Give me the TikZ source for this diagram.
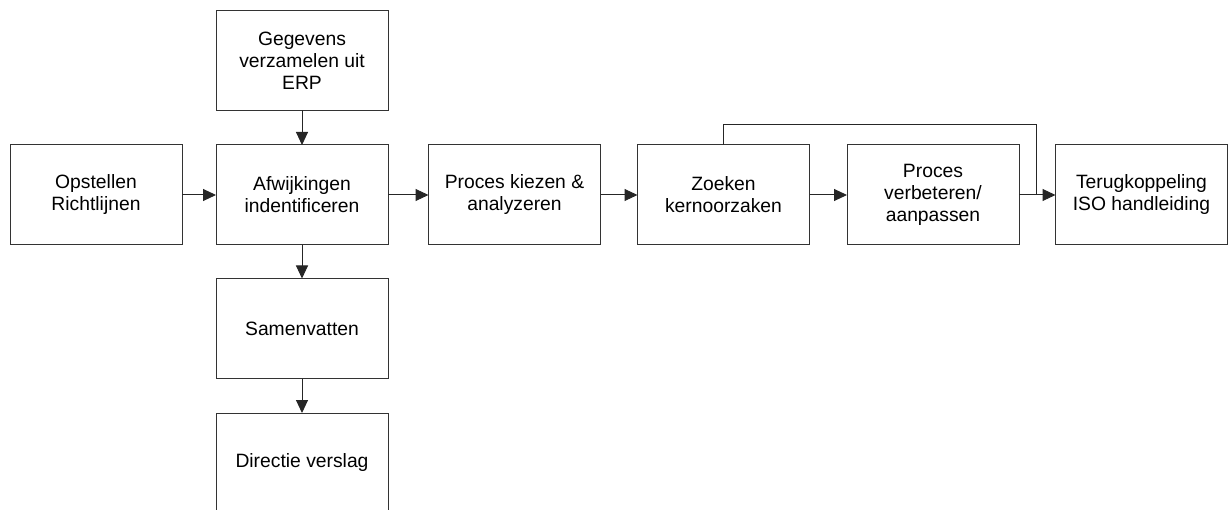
\documentclass[tikz,border=0pt]{standalone}
\usepackage{fontspec}
\setmainfont{Liberation Sans}
\usetikzlibrary{arrows.meta}
\tikzset{
  stepbox/.style={draw=black!80, line width=1pt, fill=white,
    minimum width=172pt, minimum height=100pt, inner sep=2pt, outer sep=0pt,
    align=center, font=\fontsize{19.3}{22}\selectfont},
  flow/.style={draw=black!85, line width=1pt,
    -{Triangle[length=13pt,width=12pt]}},
  plain/.style={draw=black!85, line width=1pt}
}
\begin{document}
\begin{tikzpicture}[x=1pt,y=-1pt]
  \useasboundingbox (0,0) rectangle (1228,510);
  \clip (0,0) rectangle (1228,510);
  % main row
  \node[stepbox] (opst)  at (96,195)    {Opstellen\\Richtlijnen};
  \node[stepbox] (afw)   at (302,195)   {Afwijkingen\\indentificeren};
  \node[stepbox] (kiez)  at (514.5,195) {Proces kiezen \&\\analyzeren};
  \node[stepbox] (zoek)  at (723.5,195) {Zoeken\\kernoorzaken};
  \node[stepbox] (verb)  at (933,195)   {Proces\\verbeteren/\\aanpassen};
  \node[stepbox] (terug) at (1141.5,195){Terugkoppeling\\ISO handleiding};
  % column through the deviation step
  \node[stepbox] (geg)   at (302,60.5)  {Gegevens\\verzamelen uit\\ERP};
  \node[stepbox] (samen) at (302,328.5) {Samenvatten};
  \node[stepbox] (dir)   at (302,463)   {Directie verslag};
  % connectors
  \draw[flow] (opst) -- (afw);
  \draw[flow] (afw) -- (kiez);
  \draw[flow] (kiez) -- (zoek);
  \draw[flow] (zoek) -- (verb);
  \draw[flow] (verb) -- (terug);
  \draw[flow] (geg) -- (afw);
  \draw[flow] (afw) -- (samen);
  \draw[flow] (samen) -- (dir);
  % feedback line over the improvement step
  \coordinate (fbA) at (723.5,125);
  \coordinate (fbB) at (1036,125);
  \draw[plain] (zoek.north) -- (fbA) -- (fbB) -- (fbB |- terug.west);
\end{tikzpicture}
\end{document}
